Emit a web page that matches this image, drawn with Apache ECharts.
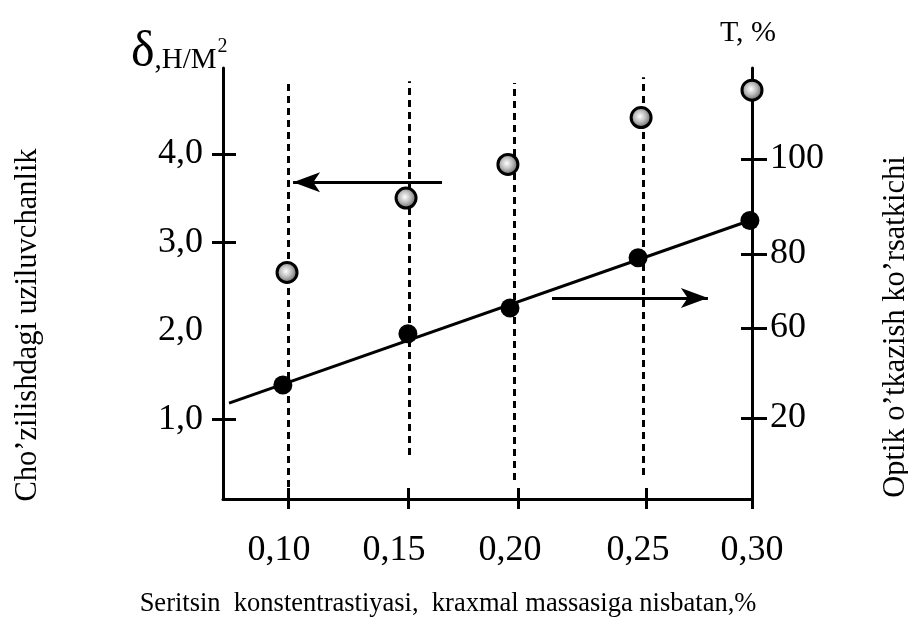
<!DOCTYPE html>
<html><head><meta charset="utf-8">
<script src="https://cdn.jsdelivr.net/npm/echarts@6/dist/echarts.min.js"></script>
<style>html,body{margin:0;padding:0;background:#fff}#c{width:908px;height:626px}</style>
</head><body><div id="c"></div>
<script>
// ---- data ----
const deltaX = [0.0996, 0.1509, 0.1948, 0.2522, 0.3000];
const deltaValues = [2.66, 3.50, 3.88, 4.41, 4.72];          // δ, left axis
const transX = [0.0978, 0.1517, 0.1957, 0.2509, 0.2991];
const transValues = [46.5, 58.6, 64.7, 76.6, 85.4];          // T, right axis
const trendX = [0.0746, 0.2991];
const trendValues = [42.2, 85.4];
const xTickValues = [0.10, 0.1517, 0.1991, 0.2543, 0.30];
const xLabelValues = [0.0961, 0.1457, 0.1957, 0.2509, 0.30];
const xTickLabels = ['0,10', '0,15', '0,20', '0,25', '0,30'];
const leftTickValues = [1, 3, 4];
const leftLabelValues = [1, 2, 3, 4];
const leftTickLabels = ['1,0', '2,0', '3,0', '4,0'];
const rightTickValues = [38.7, 60, 77.5, 100];
const rightTickLabels = ['20', '60', '80', '100'];
const guideX = [0.10, 0.1522, 0.1974, 0.2530];
const guideTop = [4.82, 4.82, 4.80, 4.865];
const guideBottom = [0.1, 0.597, 0.315, 0.371];
const arrowLeft = [[0.1664, 3.68], [0.1022, 3.68]];
const arrowRight = [[0.2138, 2.37], [0.2810, 2.37]];

const FONT = 'Liberation Serif';
function nearestLabel(v, vals, labels) {
  let b = 0;
  for (let i = 1; i < vals.length; i++) if (Math.abs(vals[i] - v) < Math.abs(vals[b] - v)) b = i;
  return labels[b];
}
const xRange = {min: 0.072, max: 0.30};
const leftRange = {min: 0.1, max: 4.97};
const rightRange = {min: 19.5, max: 121.5};
const lineBlack = {color: '#000', width: 3};

const chart = echarts.init(document.getElementById('c'), null, {renderer: 'canvas'});
chart.setOption({
  animation: false,
  backgroundColor: '#fff',
  grid: {left: 223, right: 156, top: 68, bottom: 127, containLabel: false},
  xAxis: [
    {type: 'value', ...xRange, position: 'bottom',
     axisLine: {show: true, lineStyle: lineBlack},
     axisTick: {show: true, length: 10, lineStyle: lineBlack, customValues: xTickValues},
     axisLabel: {show: true, margin: 34, fontFamily: FONT, fontSize: 36, color: '#000',
       customValues: xLabelValues, formatter: v => nearestLabel(v, xLabelValues, xTickLabels)},
     splitLine: {show: false}},
    {type: 'value', ...xRange, position: 'bottom',
     axisLine: {show: false},
     axisTick: {show: true, inside: true, length: 11, lineStyle: lineBlack, customValues: xTickValues},
     axisLabel: {show: false}, splitLine: {show: false}}
  ],
  yAxis: [
    {type: 'value', ...leftRange, position: 'left',
     axisLine: {show: true, lineStyle: lineBlack},
     axisTick: {show: true, length: 11, lineStyle: lineBlack, customValues: leftTickValues},
     axisLabel: {show: true, margin: 20, fontFamily: FONT, fontSize: 36, color: '#000',
       customValues: leftLabelValues, formatter: v => nearestLabel(v, leftLabelValues, leftTickLabels)},
     splitLine: {show: false}},
    {type: 'value', ...rightRange, position: 'right',
     axisLine: {show: true, lineStyle: lineBlack},
     axisTick: {show: true, length: 15, lineStyle: lineBlack, customValues: rightTickValues},
     axisLabel: {show: true, margin: 18, fontFamily: FONT, fontSize: 36, color: '#000',
       customValues: rightTickValues, formatter: v => nearestLabel(v, rightTickValues, rightTickLabels)},
     splitLine: {show: false}},
    {type: 'value', ...leftRange, position: 'left',
     axisLine: {show: false},
     axisTick: {show: true, inside: true, length: 13, lineStyle: lineBlack, customValues: leftTickValues},
     axisLabel: {show: false}, splitLine: {show: false}},
    {type: 'value', ...rightRange, position: 'right',
     axisLine: {show: false},
     axisTick: {show: true, inside: true, length: 11, lineStyle: lineBlack, customValues: rightTickValues},
     axisLabel: {show: false}, splitLine: {show: false}}
  ],
  series: [
    {type: 'line', xAxisIndex: 0, yAxisIndex: 0, data: [], silent: true, z: 1,
     markLine: {silent: true, symbol: 'none', label: {show: false},
       lineStyle: {color: '#000', width: 3, type: [7, 5]},
       data: guideX.map((x, i) => [{coord: [x, guideBottom[i]]}, {coord: [x, guideTop[i]]}])}},
    {type: 'line', xAxisIndex: 0, yAxisIndex: 0, data: [], silent: true, z: 2,
     markLine: {silent: true, label: {show: false}, symbol: ['none', 'arrow'], symbolSize: [1, 24],
       lineStyle: {color: '#000', width: 3, type: 'solid'},
       data: [arrowLeft, arrowRight].map(a => [{coord: a[0], symbol: 'none'}, {coord: a[1], symbol: 'arrow', symbolSize: [15, 27]}])}},
    {name: 'trend', type: 'line', xAxisIndex: 0, yAxisIndex: 1, z: 3,
     data: trendX.map((x, i) => [x, trendValues[i]]), symbol: 'none',
     lineStyle: {color: '#000', width: 3}},
    {name: 'T', type: 'scatter', xAxisIndex: 0, yAxisIndex: 1, z: 4,
     data: transX.map((x, i) => [x, transValues[i]]), symbol: 'circle', symbolSize: 19,
     itemStyle: {color: '#000', opacity: 1}},
    {name: 'delta', type: 'scatter', xAxisIndex: 0, yAxisIndex: 0, z: 5,
     data: deltaX.map((x, i) => [x, deltaValues[i]]), symbol: 'circle', symbolSize: 20,
     itemStyle: {
       opacity: 1,
       color: {type: 'radial', x: 0.45, y: 0.45, r: 0.55,
         colorStops: [{offset: 0, color: '#ffffff'}, {offset: 0.45, color: '#bdbdbd'}, {offset: 1, color: '#555555'}]},
       borderColor: '#000', borderWidth: 3}}
  ],
  graphic: [
    {type: 'text', left: 131, top: 28, silent: true,
     style: {text: '{a|δ}{b|,Н/М}{c|2}', fontFamily: FONT, fill: '#000',
       rich: {a: {fontSize: 50, fontFamily: FONT, verticalAlign: 'bottom'},
              b: {fontSize: 29, fontFamily: FONT, verticalAlign: 'bottom', padding: [0, 0, 3, 0]},
              c: {fontSize: 20, fontFamily: FONT, verticalAlign: 'top', padding: [9, 0, 0, 1]}}}},
    {type: 'text', x: 748, y: 33, silent: true,
     style: {text: 'T, %', fontFamily: FONT, fontSize: 30, fill: '#000', align: 'center', verticalAlign: 'middle'}},
    {type: 'text', x: 28, y: 325, rotation: Math.PI / 2, silent: true,
     style: {text: 'Cho’zilishdagi uziluvchanlik', fontFamily: FONT, fontSize: 30.5, fill: '#000', align: 'center', verticalAlign: 'middle'}},
    {type: 'text', x: 896, y: 327, rotation: Math.PI / 2, silent: true,
     style: {text: 'Optik o’tkazish ko’rsatkichi', fontFamily: FONT, fontSize: 30.5, fill: '#000', align: 'center', verticalAlign: 'middle'}},
    {type: 'text', x: 448, y: 604, silent: true,
     style: {text: 'Seritsin  konstentrastiyasi,  kraxmal massasiga nisbatan,%', fontFamily: FONT, fontSize: 26.5, fill: '#000', align: 'center', verticalAlign: 'middle'}}
  ]
});
</script></body></html>
